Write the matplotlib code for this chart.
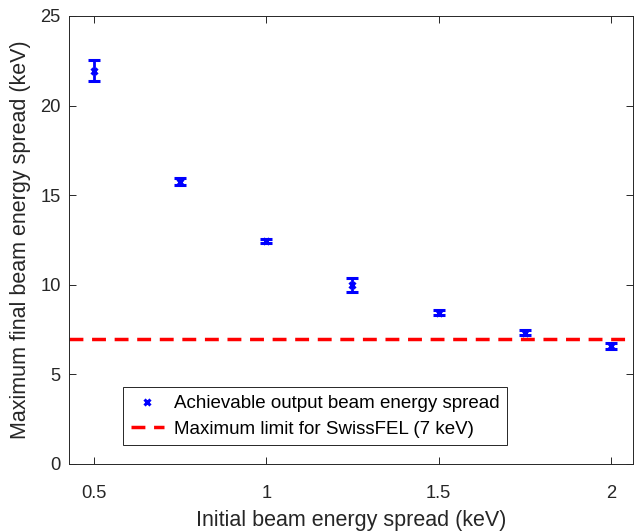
import matplotlib.pyplot as plt
from matplotlib.lines import Line2D

plt.rcParams['font.family'] = ['Liberation Sans', 'DejaVu Sans']

initial_spread = [0.5, 0.75, 1.0, 1.25, 1.5, 1.75, 2.0]
final_spread = [21.95, 15.75, 12.45, 9.98, 8.45, 7.33, 6.6]
spread_err = [0.6, 0.2, 0.1, 0.4, 0.15, 0.12, 0.17]
swissfel_limit = 7

fig = plt.figure(figsize=(6.34, 5.31), dpi=100)
ax = fig.add_axes([0.1088, 0.1262, 0.8896, 0.8437])

ax.errorbar(initial_spread, final_spread, yerr=spread_err, fmt='x', color='#0000ff',
            ecolor='#0000ff', elinewidth=2, capsize=4, capthick=2,
            markersize=5, markeredgewidth=2.2)
limit_line = ax.axhline(swissfel_limit, color='#ff0000', linestyle=(0, (4, 2.5)),
                        linewidth=2.5)

ax.set_xlim(0.4275, 2.064)
ax.set_ylim(0, 25)
ax.set_xticks([0.5, 1, 1.5, 2])
ax.set_xticklabels(['0.5', '1', '1.5', '2'])
ax.set_yticks([0, 5, 10, 15, 20, 25])
ax.tick_params(direction='in', top=True, right=True, labelsize=13.2, colors='#262626',
               length=5, width=0.7)
ax.tick_params(axis='x', pad=15)
ax.tick_params(axis='y', pad=6)
for s in ax.spines.values():
    s.set_color('#262626')
    s.set_linewidth(0.7)

ax.set_xlabel('Initial beam energy spread (keV)', fontsize=15.5, color='#262626',
              labelpad=6)
ax.set_ylabel('Maximum final beam energy spread (keV)', fontsize=15.5, color='#262626',
              labelpad=7)

marker_handle = Line2D([], [], linestyle='none', marker='x', color='#0000ff',
                       markersize=5, markeredgewidth=2.2)
leg = ax.legend([marker_handle, limit_line],
                ['Achievable output beam energy spread',
                 'Maximum limit for SwissFEL (7 keV)'],
                loc='lower left', bbox_to_anchor=(0.096, 0.042), fontsize=13.5,
                fancybox=False, edgecolor='#262626', framealpha=1,
                handlelength=1.8, handletextpad=0.5, borderpad=0.4,
                labelspacing=0.45, borderaxespad=0)
leg.get_frame().set_linewidth(0.7)

fig.savefig('out.png', dpi=100)
